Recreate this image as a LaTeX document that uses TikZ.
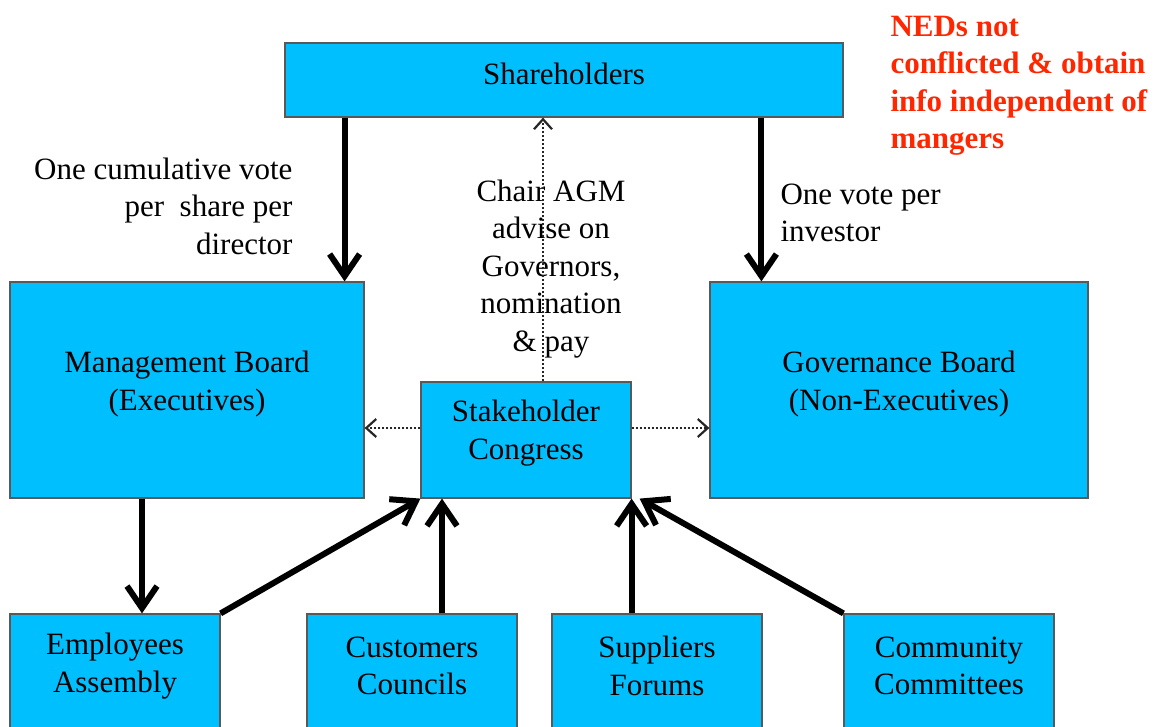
\documentclass[tikz,border=0pt]{standalone}
\usepackage{fontspec}
\setmainfont{Liberation Serif}
\usetikzlibrary{arrows.meta}
\definecolor{boxblue}{RGB}{0,191,255}
\definecolor{notered}{RGB}{255,38,0}

\begin{document}
\begin{tikzpicture}[x=1pt,y=-1pt,
    box/.style={draw=black!65,line width=1.2pt,fill=boxblue,inner sep=0pt},
    boxtext/.style={align=center,font=\fontsize{31}{37.5}\selectfont},
    note/.style={font=\fontsize{31}{37.5}\selectfont},
    vote/.style={line width=6pt,-{Straight Barb[length=22pt,width=30pt]}},
    link/.style={line width=1.1pt,black!85,dash pattern=on 2.5pt off 1.5pt,-{Straight Barb[length=10pt,width=18pt,line width=2.2pt]}}]

    % Page frame
    \clip (0,0) rectangle (1158,727);

    % Draw boxes
    \node[box,minimum width=558,minimum height=74] (share) at (564,80) {};
    \node[box,minimum width=354,minimum height=216] (mgmt) at (187,390) {};
    \node[box,minimum width=378,minimum height=216] (gov) at (899,390) {};
    \node[box,minimum width=210,minimum height=116] (cong) at (526,440) {};
    \node[box,minimum width=210,minimum height=186] (emp) at (115,707) {};
    \node[box,minimum width=210,minimum height=186] (cust) at (412,707) {};
    \node[box,minimum width=210,minimum height=186] (sup) at (657,707) {};
    \node[box,minimum width=210,minimum height=186] (comm) at (949,707) {};

    % Box texts
    \node[boxtext] (share-text) at (564,74) {Shareholders};
    \node[boxtext] (mgmt-text) at (187,384) {Management Board\\(Executives)};
    \node[boxtext] (gov-text) at (899,384) {Governance Board\\(Non-Executives)};
    \node[boxtext] (cong-text) at (526,433) {Stakeholder\\Congress};
    \node[boxtext] (emp-text) at (115,666) {Employees\\Assembly};
    \node[boxtext] (cust-text) at (412,666) {Customers\\Councils};
    \node[boxtext] (sup-text) at (657,666) {Suppliers\\Forums};
    \node[boxtext] (comm-text) at (949,666) {Community\\Committees};

    % Voting arrows from shareholders
    \path ([xshift=-20pt]mgmt.north east) coordinate (mgmt-in);
    \path ([xshift=52pt]gov.north west) coordinate (gov-in);
    \draw[vote] (share.south -| mgmt-in) -- (mgmt-in);
    \draw[vote] (share.south -| gov-in) -- (gov-in);

    % Labels
    \node[note,align=right,anchor=east] (cum-vote) at (296,206) {One cumulative vote\\per\ \ share per\\director};
    \node[note,align=left,anchor=west] (inv-vote) at (777,213) {One vote per\\investor};
    \node[note,align=center] (agm) at (551,269) {Chair AGM\\advise on\\Governors,\\nomination\\\& pay};
    \node[note,font=\fontsize{31}{37.5}\selectfont\bfseries,text=notered,align=left,anchor=west] (ned-note) at (887,86) {NEDs not\\conflicted \& obtain\\info independent of\\mangers};

    % Congress links
    \path ([xshift=17pt]cong.north) coordinate (cong-up);
    \path ([yshift=12pt]cong.west) coordinate (cong-l);
    \path ([yshift=12pt]cong.east) coordinate (cong-r);
    \draw[link] (cong-up) -- (cong-up |- share.south);
    \draw[link] (cong-l) -- (cong-l -| mgmt.east);
    \draw[link] (cong-r) -- (cong-r -| gov.west);

    % Stakeholder arrows
    \path ([xshift=-45pt]mgmt.south) coordinate (mgmt-out);
    \path ([xshift=30pt]cust.north) coordinate (cust-out);
    \draw[vote] (mgmt-out) -- (mgmt-out |- emp.north);
    \draw[vote] (emp.north east) -- (cong.south west);
    \draw[vote] (cust-out) -- (cust-out |- cong.south);
    \draw[vote] (sup.north -| cong.south east) -- (cong.south east);
    \draw[vote] (comm.north west) -- ([xshift=8pt]cong.south east);
\end{tikzpicture}
\end{document}
